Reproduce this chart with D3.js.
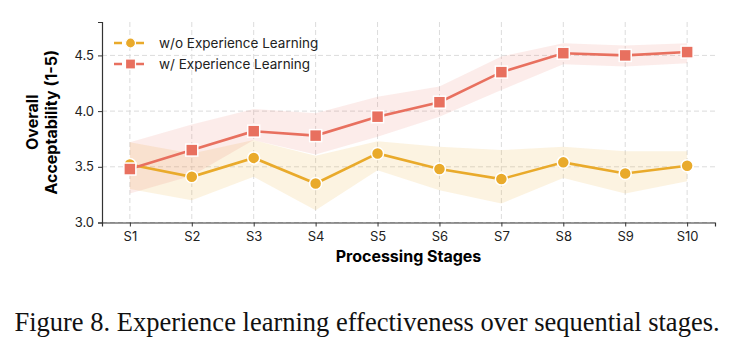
<!DOCTYPE html>
<html>
<head>
<meta charset="utf-8">
<script src="https://cdn.jsdelivr.net/npm/d3@7"></script>
<style>
  body { margin: 0; background: #fff; }
  #chart { width: 740px; height: 350px; }
</style>
</head>
<body>
<div id="chart"></div>
<script>
var stages = ['S1', 'S2', 'S3', 'S4', 'S5', 'S6', 'S7', 'S8', 'S9', 'S10'];
var yTicks = [3.0, 3.5, 4.0, 4.5];

// w/o experience learning
var baseMean = [3.52, 3.41, 3.58, 3.35, 3.62, 3.48, 3.39, 3.54, 3.44, 3.51];
var baseLow  = [3.30, 3.20, 3.41, 3.11, 3.47, 3.29, 3.17, 3.40, 3.26, 3.37];
var baseHigh = [3.72, 3.62, 3.74, 3.60, 3.73, 3.68, 3.65, 3.68, 3.64, 3.64];

// w/ experience learning
var expMean = [3.48, 3.65, 3.82, 3.78, 3.95, 4.08, 4.35, 4.52, 4.50, 4.53];
var expLow  = [3.26, 3.42, 3.74, 3.61, 3.77, 3.95, 4.19, 4.42, 4.40, 4.43];
var expHigh = [3.72, 3.88, 4.02, 3.98, 4.13, 4.22, 4.49, 4.61, 4.59, 4.61];

var yellow = '#E9AA2B';
var red = '#E8705F';

var id = 'chart';
var W = 740, H = 350;
var mLeft = 102, mRight = 715, mTop = 22, mBottom = 222.5;

var svg = d3.select('#' + id)
	.append('svg')
	.attr('width', W)
	.attr('height', H)
	.style('background-color', '#fff');

var x = d3.scaleLinear().domain([-0.45, stages.length - 1 + 0.45]).range([mLeft, mRight]);
var y = d3.scaleLinear().domain([3.0, 4.8]).range([mBottom, mTop]);

// grid
var grid = svg.append('g');
grid.selectAll('.vg').data(stages).enter().append('line')
	.attr('x1', function(d, i) { return x(i); })
	.attr('x2', function(d, i) { return x(i); })
	.attr('y1', y(4.8)).attr('y2', y(3.0))
	.style('stroke', '#dcdcdc').style('stroke-width', 1).style('stroke-dasharray', '5,3');
grid.selectAll('.hg').data(yTicks).enter().append('line')
	.attr('x1', mLeft).attr('x2', mRight)
	.attr('y1', function(d) { return y(d); })
	.attr('y2', function(d) { return y(d); })
	.style('stroke', '#dcdcdc').style('stroke-width', 1).style('stroke-dasharray', '5,3');

function band(lo, hi, color, op) {
	var area = d3.area()
		.x(function(d, i) { return x(i); })
		.y0(function(d, i) { return y(lo[i]); })
		.y1(function(d, i) { return y(hi[i]); });
	svg.append('path').datum(lo)
		.attr('d', area)
		.style('fill', color)
		.style('fill-opacity', op);
}
band(baseLow, baseHigh, yellow, 0.14);
band(expLow, expHigh, red, 0.13);

var line = d3.line()
	.x(function(d, i) { return x(i); })
	.y(function(d) { return y(d); });

svg.append('path').datum(baseMean).attr('d', line)
	.style('fill', 'none').style('stroke', yellow).style('stroke-width', 2.6);
svg.append('path').datum(expMean).attr('d', line)
	.style('fill', 'none').style('stroke', red).style('stroke-width', 2.6);

svg.selectAll('.dot').data(baseMean).enter().append('circle')
	.attr('cx', function(d, i) { return x(i); })
	.attr('cy', function(d) { return y(d); })
	.attr('r', 6)
	.style('fill', yellow).style('stroke', '#fff').style('stroke-width', 1.5);

svg.selectAll('.sq').data(expMean).enter().append('rect')
	.attr('x', function(d, i) { return x(i) - 6; })
	.attr('y', function(d) { return y(d) - 6; })
	.attr('width', 12).attr('height', 12)
	.style('fill', red).style('stroke', '#fff').style('stroke-width', 1.5);

// axes
var font = 'Inter, "Open Sans", sans-serif';
var xAxis = svg.append('g')
	.attr('transform', 'translate(0,' + mBottom + ')')
	.call(d3.axisBottom(x).tickValues(d3.range(stages.length))
		.tickFormat(function(i) { return stages[i]; }).tickSizeOuter(0).tickSize(4).tickPadding(5));
var yAxis = svg.append('g')
	.attr('transform', 'translate(' + mLeft + ',0)')
	.call(d3.axisLeft(y).tickValues(yTicks).tickFormat(d3.format('.1f')).tickSizeOuter(0).tickSize(4).tickPadding(4));

[xAxis, yAxis].forEach(function(a) {
	a.select('.domain').style('stroke', '#333').style('stroke-width', 1.2);
	a.selectAll('.tick line').style('stroke', '#333');
	a.selectAll('.tick text').style('font-family', font).style('font-size', '13px').style('fill', '#222');
});

svg.append('text')
	.attr('x', (mLeft + mRight) / 2).attr('y', 262)
	.attr('text-anchor', 'middle')
	.style('font-family', font).style('font-size', '16px').style('font-weight', 'bold')
	.text('Processing Stages');

var yt = svg.append('text')
	.attr('transform', 'translate(38,' + ((mTop + mBottom) / 2) + ') rotate(-90)')
	.attr('text-anchor', 'middle')
	.style('font-family', font).style('font-size', '16px').style('font-weight', 'bold');
yt.append('tspan').attr('x', 0).attr('dy', 0).text('Overall');
yt.append('tspan').attr('x', 0).attr('dy', 19).text('Acceptability (1-5)');

// legend
var legend = [
	{ name: 'w/o Experience Learning', color: yellow, shape: 'circle' },
	{ name: 'w/ Experience Learning', color: red, shape: 'square' }
];
var lg = svg.selectAll('.lg').data(legend).enter().append('g')
	.attr('transform', function(d, i) { return 'translate(114,' + (43 + i * 21) + ')'; });
lg.append('line')
	.attr('x1', 0).attr('x2', 33).attr('y1', 0).attr('y2', 0)
	.style('stroke', function(d) { return d.color; })
	.style('stroke-width', 2.6).style('stroke-dasharray', '8,3');
lg.each(function(d) {
	var g = d3.select(this);
	if (d.shape === 'circle') {
		g.append('circle').attr('cx', 16.5).attr('cy', 0).attr('r', 5)
			.style('fill', d.color).style('stroke', '#fff').style('stroke-width', 1.2);
	} else {
		g.append('rect').attr('x', 11.5).attr('y', -5).attr('width', 10).attr('height', 10)
			.style('fill', d.color).style('stroke', '#fff').style('stroke-width', 1.2);
	}
});
lg.append('text')
	.attr('x', 45).attr('y', 5)
	.style('font-family', font).style('font-size', '13.5px').style('fill', '#222')
	.text(function(d) { return d.name; });

// caption
svg.append('text')
	.attr('x', 367).attr('y', 331)
	.attr('text-anchor', 'middle')
	.style('font-family', '"Liberation Serif", "Times New Roman", serif')
	.style('font-size', '26.5px').style('fill', '#111')
	.text('Figure 8. Experience learning effectiveness over sequential stages.');
</script>
</body>
</html>
